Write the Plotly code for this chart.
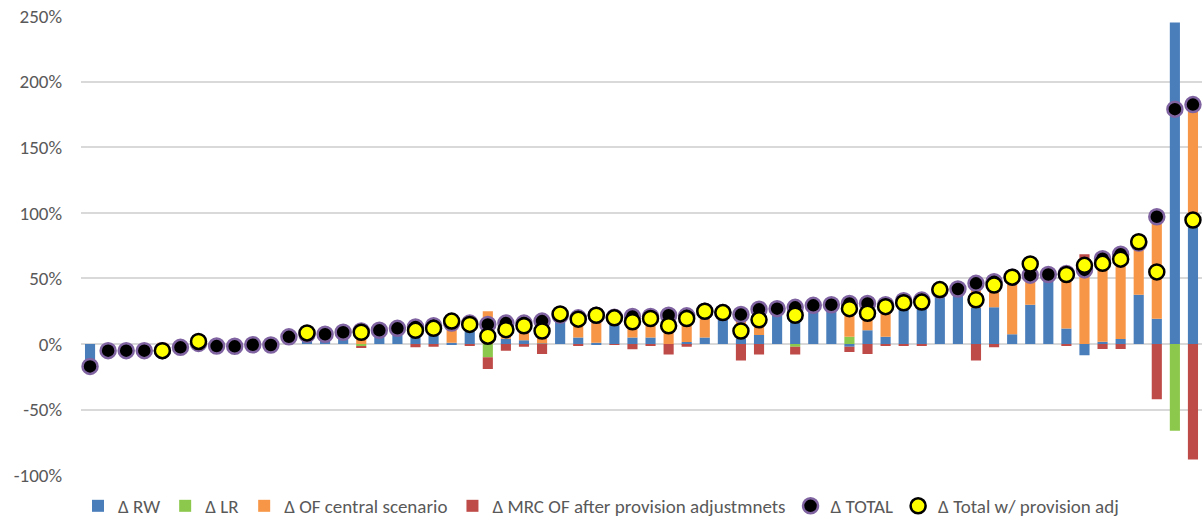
import plotly.graph_objects as go

categories = list(range(62))

d_rw = [-17, -5, -5, -5, -6, -2.5, 0.5, -1.5, -1.7, -0.5, -0.7, 5.5, 7.5, 7.5, 9, 0,
        10.5, 12, 13, 14, 1, 16, 0, 4, 3, 0.5, 22, 5, 1, 20.5, 5, 5, 0, 1.5, 5, 24,
        4.5, 7, 27, 30, 29.5, 30, -2, 10.5, 5.5, 33, 33.5, 41, 42, 27.5, 28, 7.5, 30, 53,
        11.8, -8.5, 1.8, 3.8, 37.5, 19.3, 245, 93]
d_lr = [0, 0, 0, 0, 0, 0, 0, 0, 0, 0, 0, 0, 0, 0, 0, -1.5,
        0, 0, 0, 0, 0, 0, -10, 0, 0, 0, 0, 0, 0, 0, 0, 0, 0, 0, 0, 0,
        0, 0, 0, -2, 0, 0, 5.5, 0, 0, 0, 0, 0, 0, 0, 0, 0, 0, 0,
        0, 0, 0, 0, 0, 0, -66, 0]
d_of = [0, 0, 0, 0, 1, 0, 0, 0, 0, 0, 0, 0, 0, 0, 0, 11.5,
        0, 0, 0, 0, 15, 0, 25, 12, 13, 17, 0, 15, 21, 0, 16, 16, 22, 20, 20, 0,
        18, 19.5, 0, 0, 0, 0, 27.5, 20.5, 24.5, 0, 0, 0, 0, 18.8, 19.5, 43.5, 22.5, 0,
        42, 65, 63, 64.7, 39.5, 77.7, 0, 89.5]
d_mrc = [0, 0, 0, 0, -0.5, 0, 1.5, 0, 0, 0, 0, 0, 1, 0, 0, -1,
         0, 0, -2.5, -2, 1.5, -1, -9, -5, -2, -7.5, 1, -1, 0, -0.5, -4, -1.5, -8, -2, 0, 0,
         -12.5, -8, 0, -6, 0, 0, -4, -7.5, -1.5, -1.5, -1.5, 0.5, 0, -12.5, -2.5, 0, 8.5, 0,
         -1, 3.5, -3.7, -3.8, 1, -42, 0, -88]
d_total = [-17, -5, -5, -5, -5, -2.5, 0.5, -1.5, -1.7, -0.5, -0.7, 5.5, 7.5, 7.5, 9, 10,
           10.5, 12, 13, 14, 16, 16, 15, 16, 16, 17.5, 22, 20, 22, 20.5, 21, 21, 22, 21.5, 25, 24,
           22.5, 26.5, 27, 28, 29.5, 30, 31, 31, 30, 33, 33.5, 41, 42, 46.3, 47.5, 51, 52.5, 53,
           53.8, 56.5, 65, 68.5, 77, 97, 179, 182.5]
d_total_adj = [None, None, None, None, -5, None, 2, None, None, None, None, None, 8.5, None, None, 9,
               None, None, 10.5, 12, 17.5, 15, 6, 11, 14, 10, 23, 19, 22, 20, 17, 19.5, 14, 19.5, 25, 24,
               10, 18.5, None, 22, None, None, 27, 23.5, 28.5, 31.5, 32, 41.5, None, 33.8, 45, 51, 61, None,
               53, 60, 61.5, 64.7, 78, 55, None, 94.5]

tick_vals = [-100, -50, 0, 50, 100, 150, 200, 250]
tick_text = ["-100%", "-50%", "0%", "50%", "100%", "150%", "200%", "250%"]

FONT = "Carlito, Calibri, Lato, sans-serif"
TXT = "#595959"

fig = go.Figure()
bar_series = [
    ("Δ RW", d_rw, "#4A7EBB"),
    ("Δ LR", d_lr, "#8CC84B"),
    ("Δ OF central scenario", d_of, "#F79646"),
    ("Δ MRC OF after provision adjustmnets", d_mrc, "#BE4B48"),
]
for name, vals, col in bar_series:
    fig.add_trace(go.Bar(x=categories, y=vals, name=name, marker=dict(color=col, line=dict(width=0))))

fig.add_trace(go.Scatter(x=categories, y=d_total, name="Δ TOTAL", mode="markers",
                         marker=dict(color="black", size=15, line=dict(color="#8064A2", width=2.5))))
fig.add_trace(go.Scatter(x=categories, y=d_total_adj, name="Δ Total w/ provision adj", mode="markers",
                         marker=dict(color="#FFFF00", size=15, line=dict(color="black", width=2.5))))

fig.update_layout(
    width=1202, height=520,
    barmode="relative", bargap=0.44,
    paper_bgcolor="white", plot_bgcolor="white",
    margin=dict(l=81, r=0, t=16, b=42),
    font=dict(family=FONT, size=19, color=TXT),
    showlegend=True,
    legend=dict(orientation="h", xref="container", yref="container", x=0.5, xanchor="center",
                y=0.027, yanchor="middle", font=dict(size=19, color=TXT), itemwidth=30,
                traceorder="normal"),
)
fig.update_xaxes(range=[-0.5, 61.5], showticklabels=False, showgrid=False, zeroline=False,
                 showline=False, ticks="")
fig.update_yaxes(range=[-100, 250], tickvals=tick_vals, ticktext=tick_text, showgrid=True,
                 gridcolor="#D9D9D9", gridwidth=2, zeroline=True, zerolinecolor="#D9D9D9",
                 zerolinewidth=2, showline=False, ticks="", ticklabelstandoff=18,
                 tickfont=dict(size=19, color=TXT))

fig.write_html("out.html", config={"displayModeBar": False},
               post_script="document.body.style.margin='0';document.body.style.overflow='hidden';")
